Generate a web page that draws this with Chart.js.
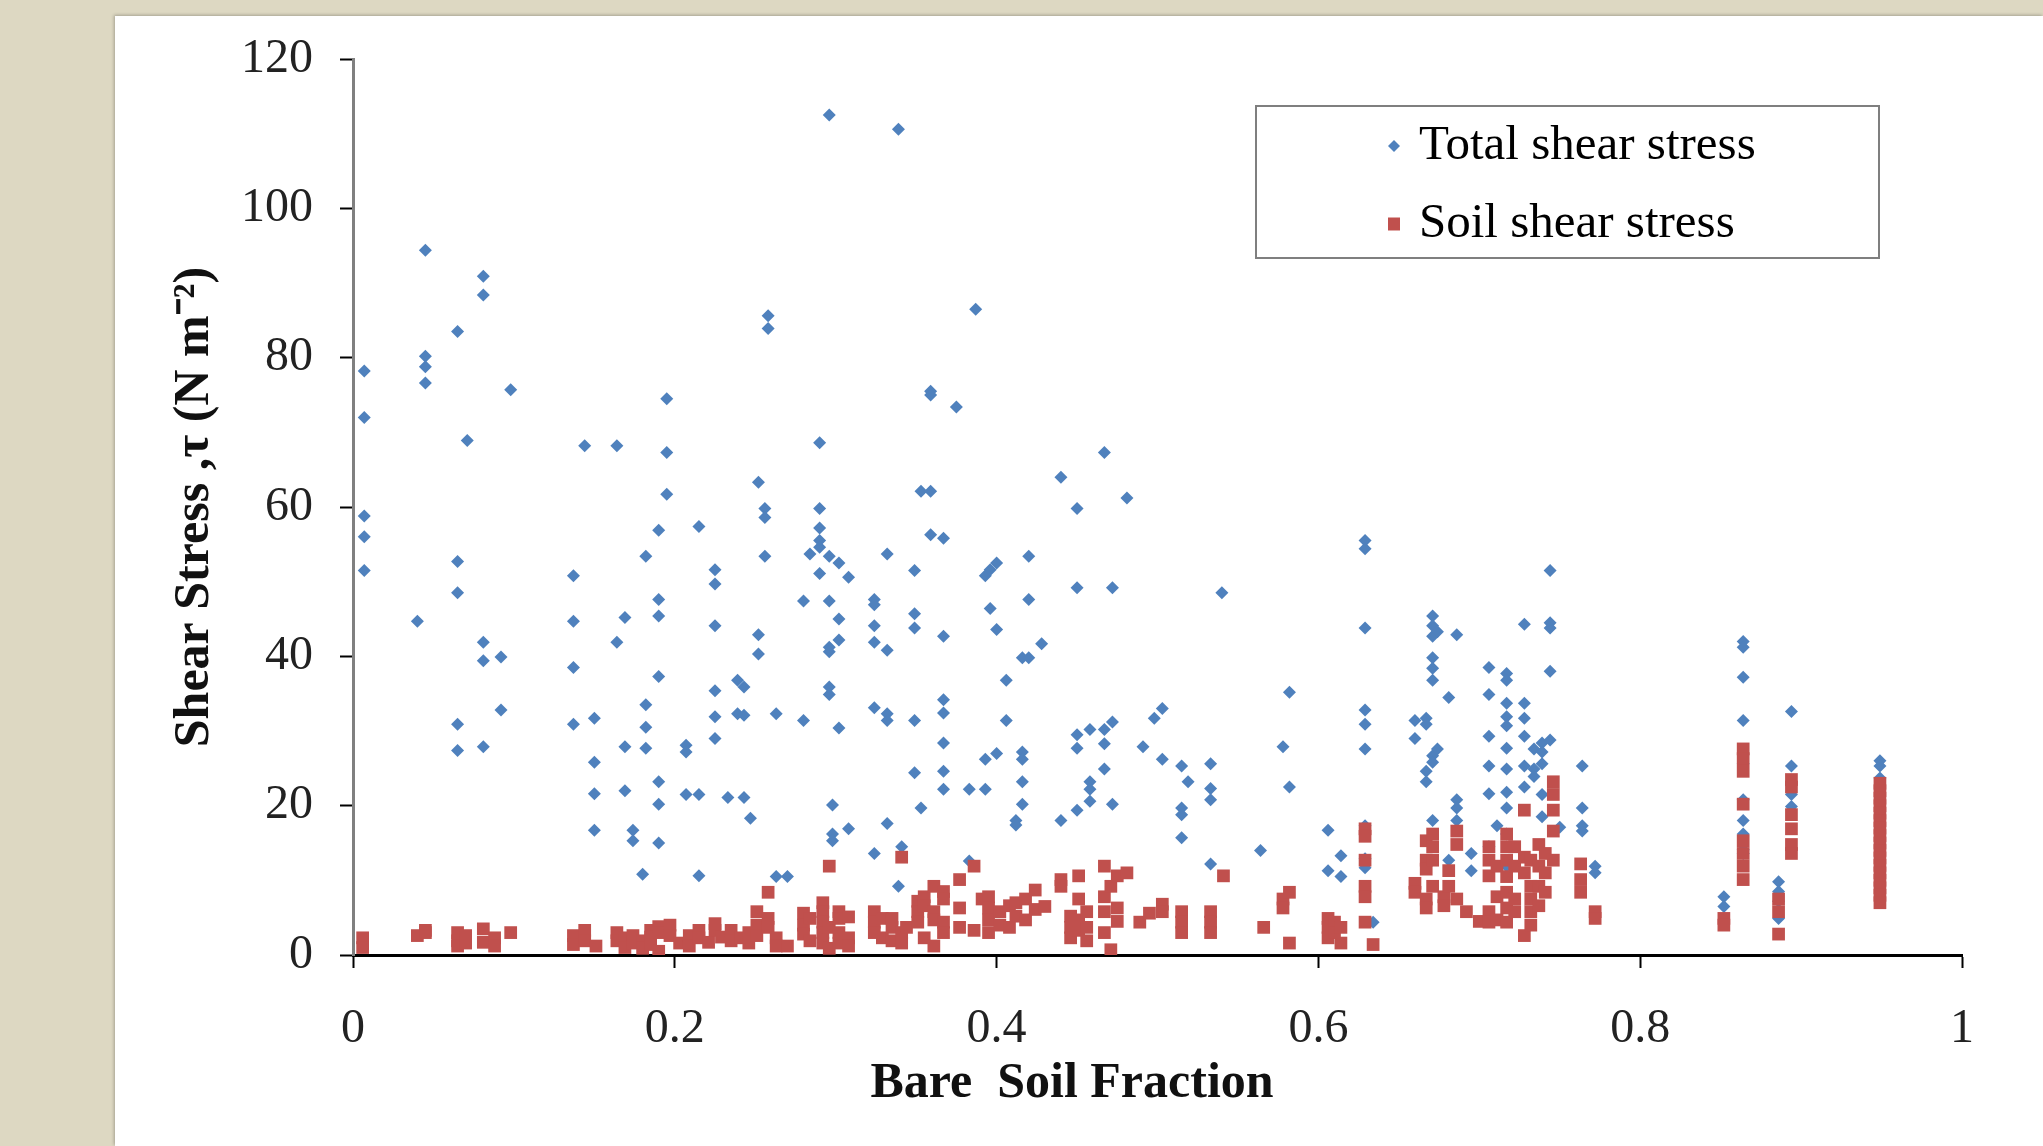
<!DOCTYPE html>
<html>
<head>
<meta charset="utf-8">
<title>Shear stress vs bare soil fraction</title>
<script src="https://cdn.jsdelivr.net/npm/chart.js@4.4.0/dist/chart.umd.min.js"></script>
<style>
  html, body { margin: 0; padding: 0; width: 2043px; height: 1146px; overflow: hidden; background: #ddd8c2; }
  #panel { position: absolute; left: 115px; top: 16px; right: 0; bottom: 0; background: #fff;
           box-shadow: -1px -1px 3px rgba(0,0,0,0.25); }
  #chart1 { position: absolute; left: 0; top: 0; }
</style>
</head>
<body>
<div id="panel"></div>
<canvas id="chart1" width="2043" height="1146"></canvas>
<script>
// values, grouped by bare soil fraction: [fraction, [stresses...]]
var totalCols = [
    [0.007, [78.2, 72, 58.8, 56, 51.5]],
    [0.040, [44.7]],
    [0.045, [94.4, 80.2, 78.8, 76.6]],
    [0.065, [83.5, 52.7, 48.5, 30.9, 27.4]],
    [0.071, [68.9]],
    [0.081, [90.9, 88.4, 41.9, 39.4, 27.9]],
    [0.092, [39.9, 32.8]],
    [0.098, [75.7]],
    [0.137, [50.8, 44.7, 38.5, 30.9]],
    [0.144, [68.2]],
    [0.150, [31.7, 25.8, 21.6, 16.7]],
    [0.164, [68.2, 41.9]],
    [0.169, [45.2, 27.9, 22]],
    [0.174, [16.7, 15.3]],
    [0.180, [10.8]],
    [0.182, [53.4, 33.5, 30.5, 27.7]],
    [0.190, [56.9, 47.6, 45.4, 37.3, 23.2, 20.2, 15]],
    [0.195, [74.5, 67.3, 61.7]],
    [0.207, [28.1, 27.2, 21.5]],
    [0.215, [57.4, 21.5, 10.6]],
    [0.225, [51.6, 49.7, 44.1, 35.4, 31.9, 29]],
    [0.233, [21.1]],
    [0.239, [36.8, 32.3]],
    [0.243, [35.9, 32.1, 21.1]],
    [0.247, [18.3]],
    [0.252, [63.3, 42.9, 40.3]],
    [0.256, [59.8, 58.6, 53.4]],
    [0.258, [85.6, 83.9]],
    [0.263, [32.3, 10.5]],
    [0.270, [10.5]],
    [0.280, [47.4, 31.4]],
    [0.284, [53.7]],
    [0.290, [68.6, 59.8, 57.2, 55.5, 54.6, 51.1]],
    [0.296, [112.5, 53.4, 47.4, 41.2, 40.6, 35.9, 34.9]],
    [0.298, [20.1, 16.2, 15.3]],
    [0.302, [52.5, 45, 42.2, 30.4]],
    [0.308, [50.6, 16.9]],
    [0.324, [47.6, 46.9, 44.1, 41.9, 33.1, 13.6]],
    [0.332, [53.7, 40.8, 32.3, 31.4, 17.6]],
    [0.339, [110.6, 9.2]],
    [0.341, [14.5]],
    [0.349, [51.5, 45.7, 43.8, 31.4, 24.4]],
    [0.353, [62.1, 19.7]],
    [0.359, [75.5, 75, 62.1, 56.3]],
    [0.367, [55.8, 42.7, 34.2, 32.4, 28.4, 24.6, 22.2]],
    [0.375, [73.4]],
    [0.383, [22.2, 12.6]],
    [0.387, [86.5]],
    [0.393, [50.8, 26.2, 22.2]],
    [0.396, [51.6, 46.4]],
    [0.400, [52.5, 43.6, 27]],
    [0.406, [36.8, 31.4]],
    [0.412, [18, 17.4]],
    [0.416, [39.8, 27.2, 26.2, 23.2, 20.2]],
    [0.420, [53.4, 47.6, 39.8]],
    [0.428, [41.7]],
    [0.440, [64, 18]],
    [0.450, [59.8, 49.2, 29.5, 27.7, 19.4]],
    [0.458, [30.2, 23.2, 22.2, 20.6]],
    [0.467, [67.3, 30.2, 28.3, 24.9]],
    [0.472, [49.2, 31.2, 20.2]],
    [0.481, [61.2]],
    [0.491, [27.9]],
    [0.498, [31.7]],
    [0.503, [33, 26.2]],
    [0.515, [25.3, 19.7, 18.8, 15.7]],
    [0.519, [23.2]],
    [0.533, [25.6, 22.3, 20.8, 12.2]],
    [0.540, [48.5]],
    [0.564, [14]],
    [0.578, [27.9]],
    [0.582, [35.2, 22.5]],
    [0.606, [16.7, 11.3]],
    [0.614, [13.3, 10.5]],
    [0.629, [55.5, 54.4, 43.8, 32.8, 30.9, 27.6, 17.3, 12.9, 11.7]],
    [0.634, [4.4]],
    [0.660, [31.4, 29]],
    [0.667, [31.7, 30.9, 24.6, 23.2]],
    [0.671, [45.4, 44.1, 42.7, 39.8, 38.4, 36.8, 26.7, 25.8, 18]],
    [0.674, [43.3, 27.6]],
    [0.681, [34.5, 12.7]],
    [0.686, [42.9, 20.8, 19.7, 18]],
    [0.695, [13.6, 11.3]],
    [0.706, [38.5, 34.9, 29.3, 25.3, 21.6, 14.5]],
    [0.711, [17.3]],
    [0.717, [37.7, 36.8, 33.7, 31.9, 30.7, 27.7, 24.9, 21.8, 19.7, 16.2, 11.9]],
    [0.728, [44.3, 33.7, 31.7, 29.3, 25.3, 22.5]],
    [0.734, [27.6, 24.9, 23.9]],
    [0.739, [28.4, 27.2, 25.6, 21.5, 18.5]],
    [0.744, [51.5, 44.5, 43.8, 38, 28.8]],
    [0.750, [17.1]],
    [0.764, [25.3, 19.7, 17.3, 16.6]],
    [0.772, [11.9, 11]],
    [0.852, [7.8, 6.5]],
    [0.864, [42, 41.2, 37.2, 31.4, 25.6, 20.8, 18, 16.2, 14.1, 13.6]],
    [0.886, [9.8, 8.5, 7.2, 4.9]],
    [0.894, [32.6, 25.3, 21.5, 19.9]],
    [0.949, [26, 25.3, 23.7]]
];

var soilCols = [
    [0.006, [2.3, 1]],
    [0.040, [2.6]],
    [0.045, [3.3, 3]],
    [0.065, [3, 1.9, 1.2]],
    [0.070, [2.6, 1.6]],
    [0.081, [3.5, 1.7]],
    [0.088, [2.3, 1.2]],
    [0.098, [3]],
    [0.137, [2.6, 1.4]],
    [0.144, [3.3, 1.9]],
    [0.151, [1.2]],
    [0.164, [3, 1.9]],
    [0.169, [2.3, 1]],
    [0.174, [2.6, 1.6]],
    [0.180, [1.9, 0.9]],
    [0.185, [3.3, 2.4, 1.4]],
    [0.190, [3.8, 3, 0.5]],
    [0.197, [4, 2.6]],
    [0.203, [1.6]],
    [0.209, [2.6, 1.2]],
    [0.215, [3.3, 2.3]],
    [0.221, [1.7]],
    [0.225, [4.2, 3.3]],
    [0.229, [2.4]],
    [0.235, [3.3, 1.9]],
    [0.241, [2.3]],
    [0.246, [3, 1.6]],
    [0.251, [5.8, 4, 2.6]],
    [0.258, [8.4, 4.9, 3.7]],
    [0.263, [2.3, 1.2]],
    [0.270, [1.2]],
    [0.280, [5.6, 4, 2.8]],
    [0.284, [4.9, 1.9]],
    [0.292, [7, 5.8, 4.4, 3, 1.6]],
    [0.296, [11.9, 3.7, 0.9]],
    [0.302, [5.8, 4.9, 3, 1.6]],
    [0.308, [5.1, 2.3, 1.2]],
    [0.324, [5.8, 4.4, 3]],
    [0.329, [4.9, 2.3]],
    [0.335, [4.9, 3.7, 1.9]],
    [0.341, [13.1, 3, 1.6]],
    [0.344, [3.7]],
    [0.351, [7.2, 5.8, 4.4]],
    [0.355, [7.8, 6.6, 2.3]],
    [0.361, [9.2, 5.8, 4.7, 1.2]],
    [0.367, [8.5, 7.5, 4.4, 3]],
    [0.377, [10.1, 6.3, 3.7]],
    [0.386, [11.9, 3.3]],
    [0.391, [7.5]],
    [0.395, [7.8, 6.3, 4.7, 3]],
    [0.402, [5.8, 4]],
    [0.408, [6.6, 3.7]],
    [0.412, [7, 5.2]],
    [0.418, [7.5, 4.7]],
    [0.424, [8.7, 6.1]],
    [0.430, [6.5]],
    [0.440, [10.1, 9.2]],
    [0.446, [5.2, 3.7, 2.3]],
    [0.451, [10.6, 7.5, 4.7, 3.3]],
    [0.456, [5.8, 3.7, 1.9]],
    [0.467, [11.9, 7.8, 5.8, 3]],
    [0.471, [9.2, 0.7]],
    [0.475, [10.6, 6.3, 4.5]],
    [0.481, [11]],
    [0.489, [4.4]],
    [0.495, [5.6]],
    [0.503, [6.8, 5.8]],
    [0.515, [5.8, 4.4, 3]],
    [0.533, [5.8, 4.4, 3]],
    [0.541, [10.6]],
    [0.566, [3.7]],
    [0.578, [7.5, 6.3]],
    [0.582, [8.4, 1.6]],
    [0.606, [4.9, 3.7, 2.3]],
    [0.610, [4.4, 3]],
    [0.614, [3.7, 1.6]],
    [0.629, [16.9, 15.9, 12.7, 9.2, 7.8, 4.4]],
    [0.634, [1.4]],
    [0.660, [9.6, 8.4]],
    [0.667, [15.3, 12.7, 11.5, 7.5, 6.3]],
    [0.671, [16.2, 14.5, 12.7, 9.2]],
    [0.678, [7.8, 6.6]],
    [0.681, [11.3, 9.2]],
    [0.686, [16.6, 14.8, 7.5]],
    [0.692, [5.8]],
    [0.700, [4.5]],
    [0.706, [14.5, 12.7, 10.6, 5.8, 4.4]],
    [0.711, [11.9, 7.8, 4.7]],
    [0.717, [16.2, 14.5, 12.7, 10.5, 8.4, 6.3, 4.4]],
    [0.722, [14.5, 11.9, 7.5, 5.8]],
    [0.728, [19.4, 13.1, 11, 2.6]],
    [0.732, [12.7, 9.2, 7.5, 5.8, 4]],
    [0.737, [14.8, 11.9, 9.2, 6.6]],
    [0.741, [13.6, 11, 8.4]],
    [0.746, [23.2, 21.5, 19.4, 16.6, 12.7]],
    [0.763, [12.2, 10.1, 8.4]],
    [0.772, [5.8, 4.9]],
    [0.852, [4.9, 4]],
    [0.864, [27.6, 26.3, 24.6, 20.2, 15.3, 13.6, 11.9, 10.1]],
    [0.886, [7.5, 5.8, 2.8]],
    [0.894, [23.5, 22.5, 18.8, 16.9, 14.8, 13.6]],
    [0.949, [23, 22, 21, 20, 19, 18, 17, 16, 15, 14, 13, 12, 11, 10, 9, 8, 7]]
];

var seriesNames = ['Total shear stress', 'Soil shear stress'];
var xTickLabels = ['0', '0.2', '0.4', '0.6', '0.8', '1'];
var yTickLabels = ['0', '20', '40', '60', '80', '100', '120'];
var xTitle = 'Bare  Soil Fraction';
var yTitle = 'Shear Stress ,\u03c4 (N m\u207b\u00b2)';

function toPoints(cols) {
    var pts = [];
    cols.forEach(function(c) {
        c[1].forEach(function(v) { pts.push({x: c[0], y: v}); });
    });
    return pts;
}

var serif = "'Times New Roman', 'Liberation Serif', serif";

// boxed legend in the top right, plus the x title (sits left of centre in the original)
var boxLegend = {
    id: 'boxLegend',
    afterDraw: function(chart) {
        var ctx = chart.ctx;
        ctx.save();
        ctx.strokeStyle = '#7f7f7f';
        ctx.lineWidth = 2;
        ctx.strokeRect(1256, 106, 623, 152);
        ctx.font = '49px ' + serif;
        ctx.textBaseline = 'middle';
        ctx.textAlign = 'left';
        var rows = [146, 224];
        chart.data.datasets.forEach(function(ds, i) {
            var y = rows[i];
            ctx.fillStyle = ds.backgroundColor;
            ctx.beginPath();
            if (ds.pointStyle === 'rectRot') {
                ctx.moveTo(1394, y - 6); ctx.lineTo(1400, y);
                ctx.lineTo(1394, y + 6); ctx.lineTo(1388, y);
                ctx.closePath();
            } else {
                ctx.rect(1388, y - 6.5, 12, 13);
            }
            ctx.fill();
            ctx.fillStyle = '#000';
            ctx.fillText(ds.label, 1419, y);
        });

        ctx.font = 'bold 50px ' + serif;
        ctx.textAlign = 'center';
        ctx.fillStyle = '#111';
        ctx.fillText(xTitle, 1072, 1084);
        ctx.restore();
    }
};

var ctx = document.getElementById('chart1').getContext('2d');
var myChart = new Chart(ctx, {
    type: 'scatter',
    data: {
        datasets: [{
            label: seriesNames[0],
            data: toPoints(totalCols),
            pointStyle: 'rectRot',
            backgroundColor: '#4f81bd',
            borderColor: '#4f81bd',
            borderWidth: 0,
            pointRadius: 6.5,
            pointHoverRadius: 6.5,
            order: 1
        },
        {
            label: seriesNames[1],
            data: toPoints(soilCols),
            pointStyle: 'rect',
            backgroundColor: '#c0504d',
            borderColor: '#c0504d',
            borderWidth: 0,
            pointRadius: 9,
            pointHoverRadius: 9,
            order: 0
        }]
    },
    options: {
        responsive: false,
        animation: false,
        layout: {
            padding: { left: 165, top: 59, right: 81, bottom: 35 }
        },
        plugins: {
            legend: { display: false },
            tooltip: { enabled: false }
        },
        scales: {
            x: {
                type: 'linear',
                min: 0,
                max: 1,
                afterFit: function(scale) { scale.height = 156; },
                border: { color: '#000', width: 3 },
                grid: { drawOnChartArea: false, drawTicks: true, tickLength: 13, tickColor: '#000', tickWidth: 2 },
                ticks: {
                    stepSize: 0.2,
                    padding: 33,
                    color: '#222',
                    font: { family: serif, size: 48 },
                    maxRotation: 0,
                    callback: function(v, i) { return xTickLabels[i]; }
                },
                title: { display: false }
            },
            y: {
                min: 0,
                max: 120,
                afterFit: function(scale) { scale.width = 188; },
                border: { color: '#808080', width: 3 },
                grid: { drawOnChartArea: false, drawTicks: true, tickLength: 13, tickColor: '#000', tickWidth: 2 },
                ticks: {
                    stepSize: 20,
                    padding: 27,
                    color: '#222',
                    font: { family: serif, size: 48 },
                    callback: function(v, i) { return yTickLabels[i]; }
                },
                title: {
                    display: true,
                    text: yTitle,
                    color: '#111',
                    padding: { top: 0, bottom: 0 },
                    font: { family: serif, size: 50, weight: 'bold' }
                }
            }
        }
    },
    plugins: [boxLegend]
});
</script>
</body>
</html>
